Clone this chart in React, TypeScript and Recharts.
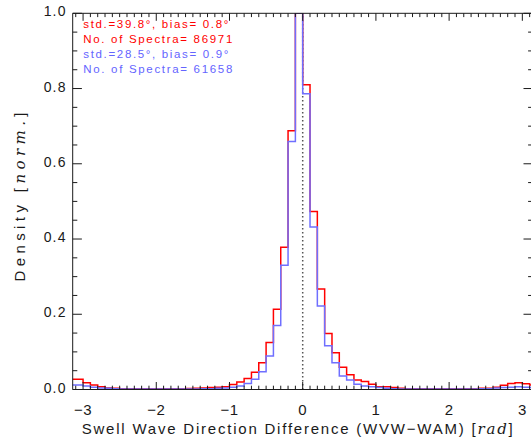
import { Line, LineChart, ReferenceLine, XAxis, YAxis } from "recharts"

// histogram bins of 0.1 rad, first bin starts at -3.2
const binEdges = Array.from({ length: 65 }, (_, i) => Math.round(-32 + i) / 10)

// std.=39.8°, 86971 spectra
const redDensity = [
  0.027, 0.027, 0.018, 0.012, 0.0075, 0.004, 0.003, 0.002, 0.002, 0.002,
  0.002, 0.002, 0.002, 0.002, 0.002, 0.002, 0.0025, 0.003, 0.004, 0.005,
  0.006, 0.0075, 0.013, 0.02, 0.029, 0.046, 0.071, 0.125, 0.213, 0.378,
  0.688, 1.0, 0.81, 0.473, 0.267, 0.149, 0.098, 0.059, 0.039, 0.025,
  0.021, 0.014, 0.0075, 0.0075, 0.005, 0.003, 0.002, 0.002, 0.002, 0.002,
  0.002, 0.002, 0.002, 0.002, 0.002, 0.002, 0.003, 0.003, 0.006, 0.011,
  0.016, 0.018, 0.015, 0.012,
]

// std.=28.5°, 61658 spectra
const blueDensity = [
  0.012, 0.012, 0.009, 0.006, 0.004, 0.003, 0.002, 0.001, 0.001, 0.001,
  0.001, 0.001, 0.001, 0.001, 0.001, 0.001, 0.001, 0.0015, 0.002, 0.002,
  0.003, 0.004, 0.006, 0.009, 0.016, 0.027, 0.047, 0.089, 0.17, 0.33,
  0.659, 1.0, 0.786, 0.432, 0.222, 0.116, 0.071, 0.036, 0.025, 0.014,
  0.009, 0.0075, 0.005, 0.003, 0.002, 0.001, 0.001, 0.001, 0.001, 0.001,
  0.001, 0.001, 0.001, 0.001, 0.001, 0.001, 0.002, 0.002, 0.004, 0.005,
  0.006, 0.007, 0.006, 0.005,
]

const xMajorTicks = [-3, -2, -1, 0, 1, 2, 3]
const xTicks = Array.from({ length: 63 }, (_, i) => (i - 31) / 10)
const yTicks = Array.from({ length: 21 }, (_, i) => i / 20)

const legendLines = [
  { text: "std.=39.8°, bias= 0.8°", color: "#ff0000", width: 145 },
  { text: "No. of Spectra= 86971", color: "#ff0000", width: 149 },
  { text: "std.=28.5°, bias= 0.9°", color: "#6464ff", width: 145 },
  { text: "No. of Spectra= 61658", color: "#6464ff", width: 149 },
]

const data = binEdges.map((x, i) => ({
  x,
  red: redDensity[Math.min(i, redDensity.length - 1)],
  blue: blueDensity[Math.min(i, blueDensity.length - 1)],
}))

const RED = "#ff0000"
const BLUE = "#6f6fff"
const INK = "#1a1a1a"
const FONT = "'Liberation Sans', Arial, sans-serif"

const isMajorX = (v: number) => xMajorTicks.some((m) => Math.abs(m - v) < 1e-6)
const isMajorY = (v: number) => Math.abs(v * 5 - Math.round(v * 5)) < 1e-6

const BottomTick = ({ x, y, payload }: any) => {
  const major = isMajorX(payload.value)
  const v = Math.round(payload.value)
  return (
    <g>
      <line x1={x} x2={x} y1={y} y2={y - (major ? 7.5 : 3.8)} stroke={INK} />
      {major && (
        <text
          x={x}
          y={y + 25}
          textAnchor="middle"
          fontSize={15}
          fontFamily={FONT}
          fill={INK}
          letterSpacing={0.5}
        >
          {v < 0 ? `\u2212${-v}` : `${v}`}
        </text>
      )}
    </g>
  )
}

const TopTick = ({ x, y, payload }: any) => {
  const major = isMajorX(payload.value)
  return <line x1={x} x2={x} y1={y} y2={y + (major ? 7.5 : 3.8)} stroke={INK} />
}

const LeftTick = ({ x, y, payload }: any) => {
  const major = isMajorY(payload.value)
  return (
    <g>
      <line x1={x} x2={x + (major ? 9.2 : 4.6)} y1={y} y2={y} stroke={INK} />
      {major && (
        <text
          x={x - 6}
          y={y + 3}
          textAnchor="end"
          fontSize={14}
          fontFamily={FONT}
          fill={INK}
          letterSpacing={1.2}
        >
          {payload.value.toFixed(1)}
        </text>
      )}
    </g>
  )
}

const RightTick = ({ x, y, payload }: any) => {
  const major = isMajorY(payload.value)
  return <line x1={x} x2={x - (major ? 9.2 : 4.6)} y1={y} y2={y} stroke={INK} />
}

export default function App() {
  return (
    <div
      style={{
        position: "absolute",
        left: 0,
        top: 0,
        width: 531,
        height: 446,
        overflow: "hidden",
        background: "#fff",
      }}
    >
      <LineChart
        width={545}
        height={446}
        data={data}
        margin={{ top: 12.3, right: 11.3, bottom: 26.5, left: 71.7 }}
      >
        <XAxis
          xAxisId={0}
          dataKey="x"
          type="number"
          domain={[-Math.PI, Math.PI]}
          allowDataOverflow
          ticks={xTicks}
          interval={0}
          height={30}
          tickSize={0}
          tickMargin={0}
          tickLine={false}
          tick={BottomTick}
          axisLine={{ stroke: INK }}
        />
        <XAxis
          xAxisId="top"
          orientation="top"
          dataKey="x"
          type="number"
          domain={[-Math.PI, Math.PI]}
          allowDataOverflow
          ticks={xTicks}
          interval={0}
          height={1}
          tickSize={0}
          tickMargin={0}
          tickLine={false}
          tick={TopTick}
          axisLine={{ stroke: INK }}
        />
        <YAxis
          yAxisId={0}
          type="number"
          domain={[0, 1]}
          allowDataOverflow
          ticks={yTicks}
          interval={0}
          width={1}
          tickSize={0}
          tickMargin={0}
          tickLine={false}
          tick={LeftTick}
          axisLine={{ stroke: INK }}
        />
        <YAxis
          yAxisId="right"
          orientation="right"
          type="number"
          domain={[0, 1]}
          allowDataOverflow
          ticks={yTicks}
          interval={0}
          width={1}
          tickSize={0}
          tickMargin={0}
          tickLine={false}
          tick={RightTick}
          axisLine={{ stroke: INK }}
        />
        <ReferenceLine
          x={0}
          stroke="#555"
          strokeWidth={1.5}
          strokeDasharray="1.5 2.5"
        />
        <Line
          dataKey="red"
          type="stepAfter"
          stroke={RED}
          strokeWidth={1.5}
          dot={false}
          activeDot={false}
          isAnimationActive={false}
        />
        <Line
          dataKey="blue"
          type="stepAfter"
          stroke={BLUE}
          strokeWidth={1.5}
          dot={false}
          activeDot={false}
          isAnimationActive={false}
        />
        {legendLines.map((l, i) => (
          <text
            key={l.text}
            x={83.3}
            y={28.3 + i * 15}
            fontSize={11.5}
            fontFamily={FONT}
            fill={l.color}
            textLength={l.width}
            lengthAdjust="spacing"
          >
            {l.text}
          </text>
        ))}
        <text
          x={81.7}
          y={434}
          fontSize={15}
          fontFamily={FONT}
          fill={INK}
          textLength={431}
          lengthAdjust="spacing"
        >
          Swell Wave Direction Difference (WVW{"\u2212"}WAM) [
          <tspan fontFamily="'DejaVu Serif', serif" fontStyle="italic">
            rad
          </tspan>
          ]
        </text>
        <text
          transform="translate(25,197) rotate(-90)"
          textAnchor="middle"
          fontSize={15}
          fontFamily={FONT}
          fill={INK}
          textLength={169}
          lengthAdjust="spacing"
        >
          Density [
          <tspan fontFamily="'DejaVu Serif', serif" fontStyle="italic">
            norm.
          </tspan>
          ]
        </text>
      </LineChart>
    </div>
  )
}
